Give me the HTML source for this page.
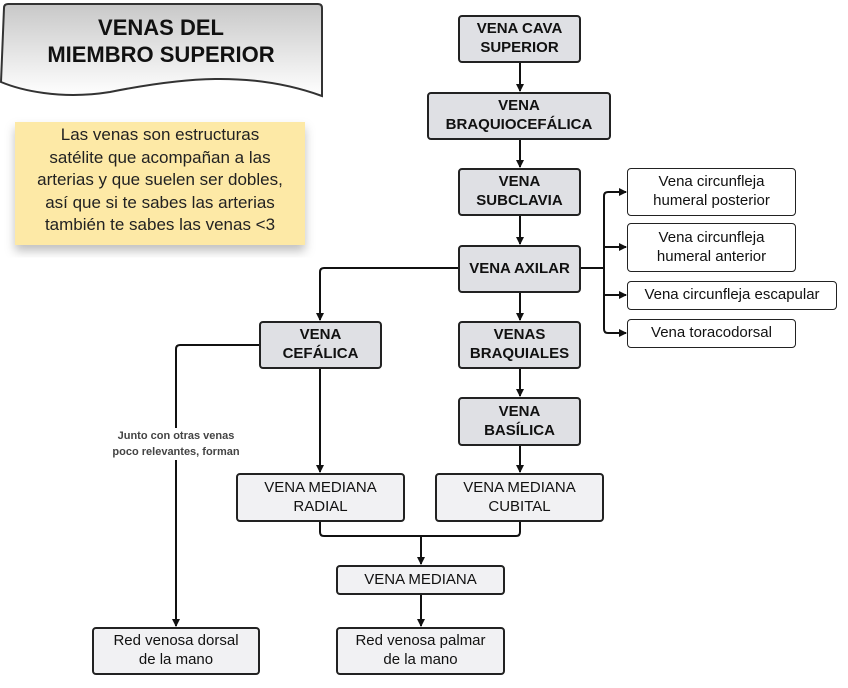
<!DOCTYPE html>
<html><head><meta charset="utf-8"><style>
body{margin:0;width:848px;height:688px;background:#fff;position:relative;font-family:"Liberation Sans",sans-serif;overflow:hidden}
.b{position:absolute;box-sizing:border-box;border:2px solid #222;border-radius:4px;display:flex;align-items:center;justify-content:center;text-align:center;color:#111;line-height:1.25}
.g{background:#dfe0e4;font-weight:bold;font-size:15px}
.l{background:#f1f1f3;font-size:15px}
.w{background:#fff;font-size:15px;border-width:1.5px}
svg{position:absolute;left:0;top:0}
</style></head><body>
<svg width="848" height="688">
<defs>
<linearGradient id="tg" x1="0" y1="0" x2="0" y2="1"><stop offset="0" stop-color="#c8c8c8"/><stop offset="1" stop-color="#fff"/></linearGradient>
<marker id="a" markerWidth="8" markerHeight="8" refX="7" refY="4" orient="auto" markerUnits="userSpaceOnUse"><path d="M0,0 L8,4 L0,8z" fill="#111"/></marker>
<filter id="s"><feDropShadow dx="0" dy="6" stdDeviation="5" flood-color="#000" flood-opacity="0.25"/></filter>
</defs>
<path d="M4,8 Q4,4 8,4 L318,4 Q322,4 322,8 L322,96 C250,70 180,78 110,92 C60,100 20,90 1,82 Z" fill="url(#tg)" stroke="#333" stroke-width="2"/>
<rect x="15" y="122" width="290" height="123" fill="#fde9a6" filter="url(#s)"/>
<g stroke="#111" stroke-width="2" fill="none">
<path d="M520,63 V91" marker-end="url(#a)"/>
<path d="M520,140 V167" marker-end="url(#a)"/>
<path d="M520,216 V244" marker-end="url(#a)"/>
<path d="M520,293 V320" marker-end="url(#a)"/>
<path d="M520,369 V396" marker-end="url(#a)"/>
<path d="M520,446 V472" marker-end="url(#a)"/>
<path d="M581,268 H604"/>
<path d="M604,268 V196 Q604,192 608,192 H626" marker-end="url(#a)"/>
<path d="M604,247 H626" marker-end="url(#a)"/>
<path d="M604,268 V295 H626" marker-end="url(#a)"/>
<path d="M604,295 V329 Q604,333 608,333 H626" marker-end="url(#a)"/>
<path d="M458,268 H324 Q320,268 320,272 V320" marker-end="url(#a)"/>
<path d="M320,369 V472" marker-end="url(#a)"/>
<path d="M259,345 H180 Q176,345 176,349 V626" marker-end="url(#a)"/>
<path d="M320,522 V532 Q320,536 324,536 H516 Q520,536 520,532 V522"/>
<path d="M421,536 V564" marker-end="url(#a)"/>
<path d="M421,595 V626" marker-end="url(#a)"/>
</g>
</svg>
<div style="position:absolute;left:0;top:14px;width:322px;text-align:center;font-weight:bold;font-size:22px;line-height:27px;color:#111">VENAS DEL<br>MIEMBRO SUPERIOR</div>
<div style="position:absolute;left:15px;top:124px;width:290px;text-align:center;font-size:17px;line-height:22.5px;color:#222">Las venas son estructuras<br>satélite que acompañan a las<br>arterias y que suelen ser dobles,<br>así que si te sabes las arterias<br>también te sabes las venas &lt;3</div>
<div style="position:absolute;left:91px;top:428px;width:170px;text-align:center;font-size:11px;font-weight:bold;line-height:16px;color:#444;background:#fff">Junto con otras venas<br>poco relevantes, forman</div>
<div class="b g" style="left:458px;top:15px;width:123px;height:48px">VENA CAVA<br>SUPERIOR</div>
<div class="b g" style="left:427px;top:92px;width:184px;height:48px">VENA<br>BRAQUIOCEFÁLICA</div>
<div class="b g" style="left:458px;top:168px;width:123px;height:48px">VENA<br>SUBCLAVIA</div>
<div class="b g" style="left:458px;top:245px;width:123px;height:48px">VENA AXILAR</div>
<div class="b g" style="left:458px;top:321px;width:123px;height:48px">VENAS<br>BRAQUIALES</div>
<div class="b g" style="left:458px;top:397px;width:123px;height:49px">VENA<br>BASÍLICA</div>
<div class="b g" style="left:259px;top:321px;width:123px;height:48px">VENA<br>CEFÁLICA</div>
<div class="b l" style="left:236px;top:473px;width:169px;height:49px">VENA MEDIANA<br>RADIAL</div>
<div class="b l" style="left:435px;top:473px;width:169px;height:49px">VENA MEDIANA<br>CUBITAL</div>
<div class="b l" style="left:336px;top:565px;width:169px;height:30px">VENA MEDIANA</div>
<div class="b l" style="left:92px;top:627px;width:168px;height:48px">Red venosa dorsal<br>de la mano</div>
<div class="b l" style="left:336px;top:627px;width:169px;height:48px">Red venosa palmar<br>de la mano</div>
<div class="b w" style="left:627px;top:168px;width:169px;height:48px">Vena circunfleja<br>humeral posterior</div>
<div class="b w" style="left:627px;top:223px;width:169px;height:49px">Vena circunfleja<br>humeral anterior</div>
<div class="b w" style="left:627px;top:281px;width:210px;height:29px">Vena circunfleja escapular</div>
<div class="b w" style="left:627px;top:319px;width:169px;height:29px">Vena toracodorsal</div>
</body></html>
